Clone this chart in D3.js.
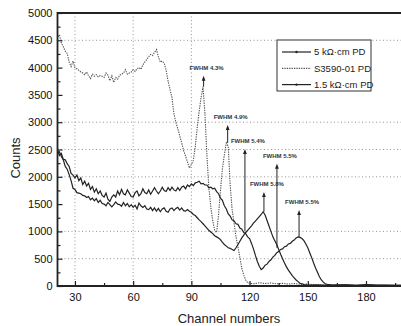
<!DOCTYPE html>
<html>
<head>
<meta charset="utf-8">
<script src="https://cdn.jsdelivr.net/npm/d3@7"></script>
<style>
  body { margin: 0; background: #fff; }
  svg { display: block; font-family: "Liberation Sans", Arial, sans-serif; }
</style>
</head>
<body>
<div id="chart"></div>
<script>
// S3590-01 PD (dotted)
const s3590 = [
  [20,4720],[21,4560],[22,4600],[23,4450],[24,4380],[25,4300],[26,4260],[27,4100],[28,4020],[29,4120],
  [30,4000],[31,3980],[32,3950],[33,3920],[34,3900],[35,3870],[36,3920],[37,3850],[38,3800],[39,3880],
  [40,3840],[41,3870],[42,3830],[43,3850],[44,3840],[45,3820],[46,3900],[47,3860],[48,3760],[49,3850],
  [50,3730],[51,3820],[52,3790],[53,3860],[54,3880],[55,3900],[56,3960],[57,3880],[58,3900],[59,3920],
  [60,3960],[61,3930],[62,3980],[63,4000],[64,3970],[65,4050],[66,4100],[67,4150],[68,4200],[69,4240],
  [70,4220],[71,4280],[72,4330],[73,4200],[74,4100],[75,4120],[76,4080],[77,3950],[78,3750],[79,3600],
  [80,3450],[81,3150],[82,3000],[83,2880],[84,2750],[85,2620],[86,2480],[87,2380],[88,2270],[89,2160],
  [90,2230],[91,2300],[92,2550],[93,2900],[94,3200],[95,3450],[96,3650],[97,3150],[98,2400],[99,1800],
  [100,1450],[101,1200],[102,1020],[103,980],[104,1300],[105,1750],[106,2150],[107,2400],[108,2620],[109,2560],
  [110,1850],[111,1400],[112,1150],[113,900],[114,720],[115,520],[116,320],[117,200],[118,110],[119,60],
  [120,50],[122,40],[125,60],[128,45],[131,55],[134,40],[137,50],[140,35],[143,45],[146,30],
  [150,35],[155,20],[160,15],[165,10],[180,10],[200,10]
];

// 5 kOhm-cm PD (solid, photopeak near ch 145)
const pd5k = [
  [20,2450],[21,2500],[22,2390],[23,2430],[24,2320],[25,2310],[26,2240],[27,2190],[28,2060],[29,2030],
  [30,1980],[31,2030],[32,1930],[33,1980],[34,1860],[35,1920],[36,1830],[37,1880],[38,1770],[39,1820],
  [40,1720],[41,1780],[42,1690],[43,1740],[44,1660],[45,1630],[46,1700],[47,1590],[48,1550],[49,1630],
  [50,1670],[51,1630],[52,1740],[53,1670],[54,1770],[55,1690],[56,1670],[57,1760],[58,1700],[59,1640],
  [60,1630],[61,1710],[62,1740],[63,1650],[64,1690],[65,1780],[66,1710],[67,1690],[68,1760],[69,1680],
  [70,1740],[71,1800],[72,1740],[73,1690],[74,1740],[75,1810],[76,1750],[77,1730],[78,1800],[79,1750],
  [80,1810],[81,1760],[82,1740],[83,1800],[84,1750],[85,1810],[86,1830],[87,1780],[88,1850],[89,1820],
  [90,1870],[91,1840],[92,1890],[93,1900],[94,1920],[95,1870],[96,1880],[97,1850],[98,1850],[99,1800],
  [100,1810],[101,1780],[102,1790],[103,1730],[104,1690],[105,1610],[106,1570],[107,1470],[108,1410],[109,1320],
  [110,1280],[111,1210],[112,1190],[113,1140],[114,1130],[115,1060],[116,1040],[117,980],[118,960],[119,900],
  [120,870],[121,780],[122,680],[123,560],[124,450],[125,360],[126,300],[127,330],[128,380],[129,400],
  [130,450],[131,480],[132,530],[133,560],[134,610],[135,630],[136,670],[137,680],[138,720],[139,730],
  [140,770],[141,780],[142,820],[143,840],[144,880],[145,900],[146,890],[147,870],[148,830],[149,770],
  [150,700],[151,610],[152,520],[153,420],[154,330],[155,250],[156,170],[157,110],[158,70],[159,40],
  [160,30],[162,20],[165,15],[170,20],[175,10],[180,25],[185,10],[190,15],[195,10],[200,15]
];

// 1.5 kOhm-cm PD (solid, photopeak near ch 127)
const pd15k = [
  [20,2380],[21,2430],[22,2460],[23,2370],[24,2310],[25,2190],[26,2140],[27,2040],[28,1930],[29,1790],
  [30,1770],[31,1710],[32,1700],[33,1690],[34,1660],[35,1650],[36,1620],[37,1640],[38,1580],[39,1610],
  [40,1560],[41,1600],[42,1530],[43,1570],[44,1510],[45,1500],[46,1470],[47,1530],[48,1490],[49,1450],
  [50,1490],[51,1540],[52,1500],[53,1490],[54,1460],[55,1530],[56,1470],[57,1510],[58,1450],[59,1490],
  [60,1440],[61,1480],[62,1410],[63,1520],[64,1470],[65,1440],[66,1470],[67,1410],[68,1400],[69,1440],
  [70,1380],[71,1430],[72,1370],[73,1420],[74,1360],[75,1410],[76,1430],[77,1370],[78,1350],[79,1410],
  [80,1430],[81,1380],[82,1420],[83,1440],[84,1390],[85,1430],[86,1380],[87,1370],[88,1400],[89,1370],
  [90,1350],[91,1310],[92,1290],[93,1250],[94,1210],[95,1180],[96,1140],[97,1100],[98,1060],[99,1020],
  [100,990],[101,960],[102,920],[103,900],[104,880],[105,850],[106,800],[107,760],[108,730],[109,700],
  [110,690],[111,670],[112,650],[113,700],[114,760],[115,820],[116,880],[117,930],[118,980],[119,1020],
  [120,1060],[121,1100],[122,1150],[123,1190],[124,1230],[125,1270],[126,1310],[127,1360],[128,1300],[129,1200],
  [130,1100],[131,1000],[132,900],[133,830],[134,760],[135,670],[136,580],[137,500],[138,420],[139,350],
  [140,290],[141,240],[142,190],[143,150],[144,110],[145,80],[146,50],[147,40],[148,25],[150,15],
  [155,20],[160,10],[168,20],[175,10],[182,20],[190,10],[200,15]
];

const xTicks = [30, 60, 90, 120, 150, 180];
const xMinor = [45, 75, 105, 135, 165, 195];
const yTicks = [0, 500, 1000, 1500, 2000, 2500, 3000, 3500, 4000, 4500, 5000];
const yMinor = [250, 750, 1250, 1750, 2250, 2750, 3250, 3750, 4250, 4750];
const gridX = [30, 60, 90];
const gridY = [500, 1000, 2000, 2500, 3000, 4500];

const fwhmLabels = ['FWHM 4.3%', 'FWHM 4.9%', 'FWHM 5.4%', 'FWHM 5.5%', 'FWHM 5.8%', 'FWHM 5.5%'];
const fwhmChannel = [96.3, 108.7, 117.6, 134.1, 127.4, 145.5];
const fwhmTop = [3850, 2950, 2510, 2240, 1720, 1390];
const fwhmBottom = [3650, 2620, 1000, 700, 1360, 900];

const legendNames = ['5 k\u03A9\u00B7cm PD', 'S3590-01 PD', '1.5 k\u03A9\u00B7cm PD'];

const W = 401, H = 326;
const svg = d3.select('#chart').append('svg').attr('width', W).attr('height', H);

const x = d3.scaleLinear().domain([21, 200]).range([57.5, 404.8]);
const y = d3.scaleLinear().domain([0, 5000]).range([286, 13]);

svg.append('clipPath').attr('id', 'plot')
  .append('rect').attr('x', 57.5).attr('y', 13).attr('width', 350).attr('height', 273);

// grid
const grid = svg.append('g').attr('stroke', '#8a8a8a').attr('stroke-width', 0.9).attr('stroke-dasharray', '1,2.5');
grid.selectAll('.gx').data(gridX).join('line')
  .attr('x1', d => x(d)).attr('x2', d => x(d)).attr('y1', 13).attr('y2', 286);
grid.selectAll('.gy').data(gridY).join('line')
  .attr('x1', 57.5).attr('x2', W).attr('y1', d => y(d)).attr('y2', d => y(d));

// series
const line = d3.line().x(d => x(d[0])).y(d => y(d[1]));
const lines = svg.append('g').attr('clip-path', 'url(#plot)').attr('fill', 'none');
lines.append('path').datum(s3590).attr('d', line)
  .attr('stroke', '#505050').attr('stroke-width', 1.1).attr('stroke-dasharray', '1.3,1.1');
lines.append('path').datum(pd5k).attr('d', line)
  .attr('stroke', '#222').attr('stroke-width', 1.2);
lines.append('path').datum(pd15k).attr('d', line)
  .attr('stroke', '#222').attr('stroke-width', 1.2);

// axes
svg.append('g').attr('transform', 'translate(57.5,0)')
  .call(d3.axisLeft(y).tickValues(yTicks).tickSize(-5).tickPadding(5).tickFormat(d3.format('d')));
svg.append('g').attr('transform', 'translate(57.5,0)')
  .call(d3.axisLeft(y).tickValues(yMinor).tickSize(-3).tickFormat(''));
svg.append('g').attr('transform', 'translate(0,286)')
  .call(d3.axisBottom(x).tickValues(xTicks).tickSize(-5).tickPadding(7));
svg.append('g').attr('transform', 'translate(0,286)')
  .call(d3.axisBottom(x).tickValues(xMinor).tickSize(-3).tickFormat(''));
svg.selectAll('.domain').remove();
svg.selectAll('.tick line').attr('stroke', '#222').attr('stroke-width', 1.2);
svg.selectAll('.tick text').attr('font-size', 11).attr('fill', '#111')
  .attr('font-family', '"Liberation Sans", Arial, sans-serif');

// frame
svg.append('path')
  .attr('d', `M${W},13H57.5V286H${W}`)
  .attr('fill', 'none').attr('stroke', '#222').attr('stroke-width', 1.8);

// axis titles
svg.append('text').attr('x', 229).attr('y', 323).attr('text-anchor', 'middle')
  .attr('font-size', 13).attr('fill', '#222').text('Channel numbers');
svg.append('text').attr('transform', 'translate(20,158) rotate(-90)').attr('text-anchor', 'middle')
  .attr('font-size', 13).attr('fill', '#222').text('Counts');

// FWHM arrows
const ann = svg.append('g');
fwhmLabels.forEach((lab, i) => {
  const ax = x(fwhmChannel[i]), yt = y(fwhmTop[i]), yb = y(fwhmBottom[i]);
  ann.append('line').attr('x1', ax).attr('x2', ax).attr('y1', yt + 3).attr('y2', yb)
    .attr('stroke', '#222').attr('stroke-width', 1);
  ann.append('path').attr('d', `M${ax},${yt}L${ax - 1.9},${yt + 5}L${ax + 1.9},${yt + 5}Z`).attr('fill', '#222');
  ann.append('text').attr('x', ax + 3).attr('y', yt - 6).attr('text-anchor', 'middle')
    .attr('font-size', 6).attr('font-weight', 'bold').attr('fill', '#333').text(lab);
});

// legend
const lg = svg.append('g');
lg.append('rect').attr('x', 277).attr('y', 40).attr('width', 94).attr('height', 51)
  .attr('fill', '#fff').attr('stroke', '#333').attr('stroke-width', 1);
legendNames.forEach((name, i) => {
  const ly = 52 + i * 16.3;
  const l = lg.append('line').attr('x1', 282).attr('x2', 311).attr('y1', ly).attr('y2', ly)
    .attr('stroke', i === 1 ? '#505050' : '#222').attr('stroke-width', 1.2);
  if (i === 1) l.attr('stroke-dasharray', '1.3,1.1');
  else lg.append('circle').attr('cx', 296.5).attr('cy', ly).attr('r', 1.2).attr('fill', '#222');
  lg.append('text').attr('x', 314).attr('y', ly).attr('dy', '0.35em')
    .attr('font-size', 9.5).attr('fill', '#222').text(name);
});
</script>
</body>
</html>
